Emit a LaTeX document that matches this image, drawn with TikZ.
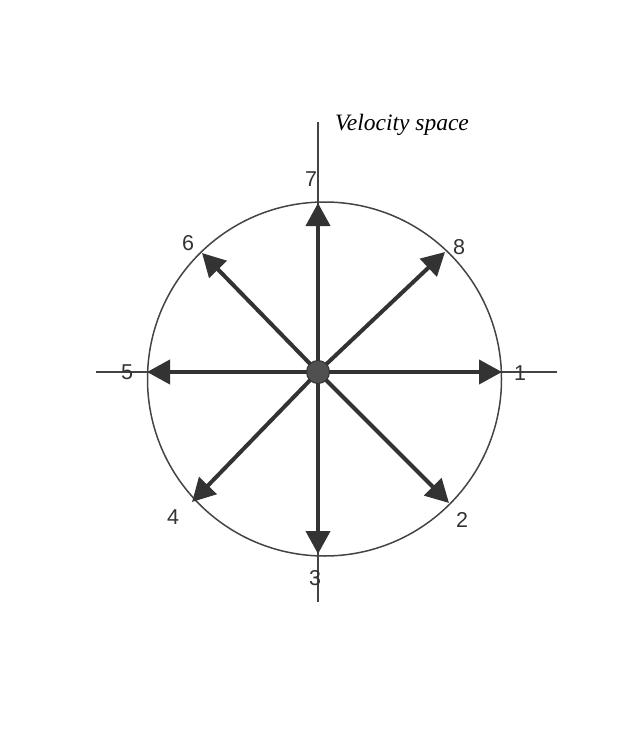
\documentclass[tikz,border=0pt]{standalone}
\usepackage{fontspec}
\setmainfont{Liberation Serif}
\newfontfamily\labelfont{Liberation Sans}
\usepackage{xcolor}
\usepackage{tikz}
\usetikzlibrary{arrows.meta, positioning}
\definecolor{arrowgray}{HTML}{333333}
\definecolor{linegray}{HTML}{444444}
\definecolor{dotgray}{HTML}{505050}

\begin{document}
\begin{tikzpicture}[x=1pt, y=-1pt, every node/.style={font=\labelfont\fontsize{21.5}{21.5}\selectfont, text=arrowgray}]
    % Define styles
    \tikzstyle{axisline} = [draw=linegray, line width=1.4pt]
    \tikzstyle{rim} = [draw=linegray, line width=1.5pt]
    \tikzstyle{velarrow} = [draw=arrowgray, line width=4pt, -{Triangle[length=23pt, width=24pt]}]
    \tikzstyle{dirlabel} = [inner sep=0pt]

    % Page frame
    \useasboundingbox (0,0) rectangle (631,738);

    % Origin and arrow tips
    \coordinate (origin) at (318, 372);
    \coordinate (tip1) at (502, 372);
    \coordinate (tip2) at (449, 503);
    \coordinate (tip3) at (318, 554);
    \coordinate (tip4) at (192, 502);
    \coordinate (tip5) at (147, 372);
    \coordinate (tip6) at (202, 253);
    \coordinate (tip7) at (318, 203);
    \coordinate (tip8) at (445, 252);

    % Axes ends
    \coordinate (xleft) at (96, 372);
    \coordinate (xright) at (557, 372);
    \coordinate (ytop) at (318, 122);
    \coordinate (ybottom) at (318, 602);

    % Circle
    \draw [rim] (324.5, 379) circle [radius=177];

    % Axes
    \draw [axisline] (xleft) -- (xright);
    \draw [axisline] (ytop) -- (ybottom);

    % Velocity arrows
    \foreach \i in {1,...,8}
        \draw [velarrow] (origin) -- (tip\i);

    % Centre dot
    \node (dot) [circle, fill=dotgray, draw=arrowgray, line width=1pt, minimum size=23pt, inner sep=0pt] at (origin) {};

    % Direction labels
    \node (lab1) [dirlabel] at (520, 373) {1};
    \node (lab2) [dirlabel] at (462, 520) {2};
    \node (lab3) [dirlabel] at (315, 578) {3};
    \node (lab4) [dirlabel] at (173, 517) {4};
    \node (lab5) [dirlabel] at (127, 372) {5};
    \node (lab6) [dirlabel] at (188, 243) {6};
    \node (lab7) [dirlabel] at (311, 179) {7};
    \node (lab8) [dirlabel] at (459, 247) {8};

    % Title
    \node (title) [font=\rmfamily\itshape\fontsize{23.5}{23.5}\selectfont, text=black, inner sep=0pt] at (402, 125) {Velocity space};
\end{tikzpicture}
\end{document}
